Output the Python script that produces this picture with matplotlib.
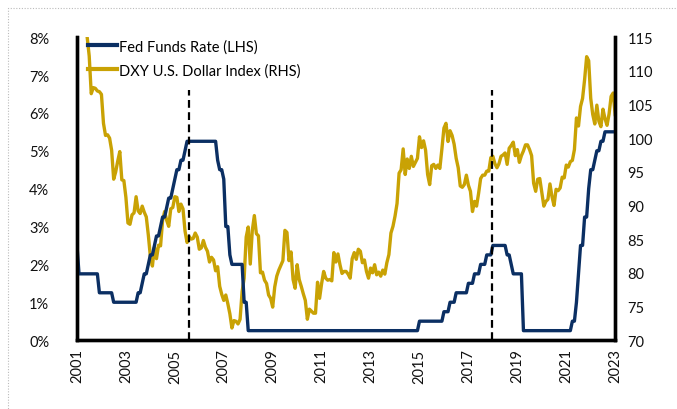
import numpy as np
import matplotlib.pyplot as plt
from matplotlib.patches import Rectangle

# monthly points, first point = late 2001, last = late 2023
fed_rate = [
    2.5,
    1.75, 1.75, 1.75, 1.75, 1.75, 1.75, 1.75, 1.75, 1.75, 1.75, 1.25, 1.25,
    1.25, 1.25, 1.25, 1.25, 1.25, 1.0, 1.0, 1.0, 1.0, 1.0, 1.0, 1.0,
    1.0, 1.0, 1.0, 1.0, 1.0, 1.25, 1.25, 1.5, 1.75, 1.75, 2.0, 2.25,
    2.25, 2.5, 2.75, 2.75, 3.0, 3.25, 3.25, 3.5, 3.75, 3.75, 4.0, 4.25,
    4.5, 4.5, 4.75, 4.75, 5.0, 5.25, 5.25, 5.25, 5.25, 5.25, 5.25, 5.25,
    5.25, 5.25, 5.25, 5.25, 5.25, 5.25, 5.25, 5.25, 4.75, 4.5, 4.5, 4.25,
    3.0, 3.0, 2.25, 2.0, 2.0, 2.0, 2.0, 2.0, 2.0, 1.0, 1.0, 0.25,
    0.25, 0.25, 0.25, 0.25, 0.25, 0.25, 0.25, 0.25, 0.25, 0.25, 0.25, 0.25,
    0.25, 0.25, 0.25, 0.25, 0.25, 0.25, 0.25, 0.25, 0.25, 0.25, 0.25, 0.25,
    0.25, 0.25, 0.25, 0.25, 0.25, 0.25, 0.25, 0.25, 0.25, 0.25, 0.25, 0.25,
    0.25, 0.25, 0.25, 0.25, 0.25, 0.25, 0.25, 0.25, 0.25, 0.25, 0.25, 0.25,
    0.25, 0.25, 0.25, 0.25, 0.25, 0.25, 0.25, 0.25, 0.25, 0.25, 0.25, 0.25,
    0.25, 0.25, 0.25, 0.25, 0.25, 0.25, 0.25, 0.25, 0.25, 0.25, 0.25, 0.25,
    0.25, 0.25, 0.25, 0.25, 0.25, 0.25, 0.25, 0.25, 0.25, 0.25, 0.25, 0.5,
    0.5, 0.5, 0.5, 0.5, 0.5, 0.5, 0.5, 0.5, 0.5, 0.5, 0.5, 0.75,
    0.75, 0.75, 1.0, 1.0, 1.0, 1.25, 1.25, 1.25, 1.25, 1.25, 1.25, 1.5,
    1.5, 1.5, 1.75, 1.75, 1.75, 2.0, 2.0, 2.0, 2.25, 2.25, 2.25, 2.5,
    2.5, 2.5, 2.5, 2.5, 2.5, 2.5, 2.25, 2.25, 2.0, 1.75, 1.75, 1.75,
    1.75, 1.75, 0.25, 0.25, 0.25, 0.25, 0.25, 0.25, 0.25, 0.25, 0.25, 0.25,
    0.25, 0.25, 0.25, 0.25, 0.25, 0.25, 0.25, 0.25, 0.25, 0.25, 0.25, 0.25,
    0.25, 0.25, 0.5, 0.5, 1.0, 1.75, 2.5, 2.5, 3.25, 3.25, 4.0, 4.5,
    4.5, 4.75, 5.0, 5.0, 5.25, 5.25, 5.5, 5.5, 5.5, 5.5, 5.5, 5.5,
]

dxy = [
    116.4,
    116.8, 120.2, 119.4, 119.0, 115.0, 112.2, 106.6, 107.5, 107.4, 107.0, 106.9, 106.5,
    102.2, 100.4, 100.5, 100.0, 98.2, 93.9, 95.0, 96.6, 98.0, 93.8, 93.7, 91.2,
    87.4, 87.2, 88.6, 88.9, 91.3, 89.2, 88.8, 89.9, 89.0, 88.3, 85.6, 82.4,
    81.0, 83.8, 82.1, 84.1, 84.0, 87.8, 89.1, 87.8, 86.9, 89.5, 89.7, 91.3,
    91.2, 89.1, 90.2, 89.5, 86.2, 84.5, 85.4, 85.0, 85.1, 85.9, 85.3, 83.5,
    83.7, 84.8, 83.8, 83.2, 81.6, 82.3, 81.9, 80.3, 80.9, 78.0, 76.8, 75.9,
    76.7, 75.4, 73.9, 71.8, 72.9, 72.8, 72.4, 73.1, 77.2, 79.2, 85.3, 86.8,
    81.3, 86.3, 88.5, 85.8, 85.5, 80.0, 80.1, 78.9, 78.4, 76.7, 76.2, 74.9,
    77.9, 79.5, 80.4, 81.1, 81.8, 86.3, 86.0, 81.8, 83.1, 79.0, 77.7, 81.2,
    79.0, 78.0, 76.9, 75.9, 73.1, 74.6, 74.3, 74.0, 74.0, 78.6, 76.2, 78.4,
    80.2, 79.2, 78.9, 79.0, 78.8, 83.0, 81.6, 82.8, 81.2, 79.9, 80.2, 80.2,
    79.8, 79.2, 82.1, 83.0, 82.0, 83.5, 83.2, 81.5, 81.9, 80.2, 79.2, 80.7,
    80.0, 81.2, 79.7, 80.1, 79.5, 80.4, 79.8, 81.5, 82.7, 85.9, 86.9, 88.4,
    90.3, 94.8, 95.3, 98.4, 94.6, 96.9, 95.5, 97.3, 95.8, 96.4, 97.0, 100.2,
    98.6, 99.6, 98.2, 94.6, 93.1, 95.9, 96.1, 95.5, 96.0, 95.5, 98.4, 101.5,
    102.2, 99.5, 101.1, 100.4, 99.1, 97.0, 95.6, 92.9, 92.7, 93.1, 94.5, 93.0,
    92.1, 89.1, 90.6, 89.9, 91.8, 94.0, 94.5, 94.5, 95.1, 95.1, 97.1, 97.3,
    96.2, 95.6, 96.2, 97.3, 97.5, 97.8, 96.1, 98.5, 98.9, 99.4, 97.4, 98.3,
    96.4, 97.4, 98.1, 99.0, 99.0, 98.3, 97.4, 93.3, 92.1, 93.9, 94.0, 91.9,
    89.9, 90.6, 90.9, 93.2, 91.3, 90.0, 92.4, 92.2, 92.6, 94.2, 94.1, 96.0,
    95.7, 96.5, 96.7, 98.3, 103.0, 101.8, 104.7, 105.9, 108.7, 112.1, 111.5, 105.9,
    103.5, 102.1, 104.9, 102.5, 101.7, 104.3, 102.9, 101.9, 103.6, 106.2, 106.7, 103.5,
]

year_labels = ["2001", "2003", "2005", "2007", "2009", "2011",
               "2013", "2015", "2017", "2019", "2021", "2023"]
cycle_end = [55, 203.5]   # end of the two hiking cycles (month index)

navy = "#0B2F63"
gold = "#C9A204"

plt.rcParams["font.family"] = ["Lato", "DejaVu Sans"]

fig = plt.figure(figsize=(6.77, 4.10), dpi=100)
ax = fig.add_axes([0.1137, 0.168, 0.795, 0.739])
ax2 = ax.twinx()

x = np.arange(len(fed_rate))
l2, = ax2.plot(x, dxy, color=gold, lw=2.4, label="DXY U.S. Dollar Index (RHS)")
l1, = ax.plot(x, fed_rate, color=navy, lw=2.4, label="Fed Funds Rate (LHS)")
ax.set_zorder(ax2.get_zorder() + 1)
ax.patch.set_visible(False)

for c in cycle_end:
    ax.plot([c, c], [0, 6.6], color="black", lw=1.6, ls=(0, (3.5, 2.0)))

ax.set_xlim(0, 264)
ax.set_ylim(0, 8)
ax2.set_ylim(70, 115)

ax.set_xticks(np.arange(0, 265, 24))
ax.set_xticklabels(year_labels, rotation=90)
ax.set_yticks(range(0, 9))
ax.set_yticklabels([f"{v}%" for v in range(0, 9)])
ax2.set_yticks(range(70, 116, 5))

for a in (ax, ax2):
    a.tick_params(length=0, labelsize=10.5, colors="#111111")
    a.spines["top"].set_visible(False)
    for s in ("left", "right", "bottom"):
        a.spines[s].set_linewidth(2.4)
        a.spines[s].set_color("black")
ax.tick_params(axis="y", pad=20)
ax.tick_params(axis="x", pad=6)
ax2.tick_params(axis="y", pad=9)

leg = ax.legend(handles=[l1, l2], loc="upper left", frameon=False,
                fontsize=10.5, handlelength=2.0, handletextpad=0.15,
                labelspacing=0.65, bbox_to_anchor=(0.004, 1.022), borderaxespad=0.2)
for h in leg.get_lines():
    h.set_linewidth(3)

# dotted frame of the slide
fig.patches.append(Rectangle((8 / 677, -0.1), 1.2, (1 - 9 / 410) + 0.1,
                             transform=fig.transFigure, fill=False,
                             ec="#BBBBBB", lw=0.8, ls=(0, (1, 1.5))))

fig.savefig("out.png", dpi=100)
